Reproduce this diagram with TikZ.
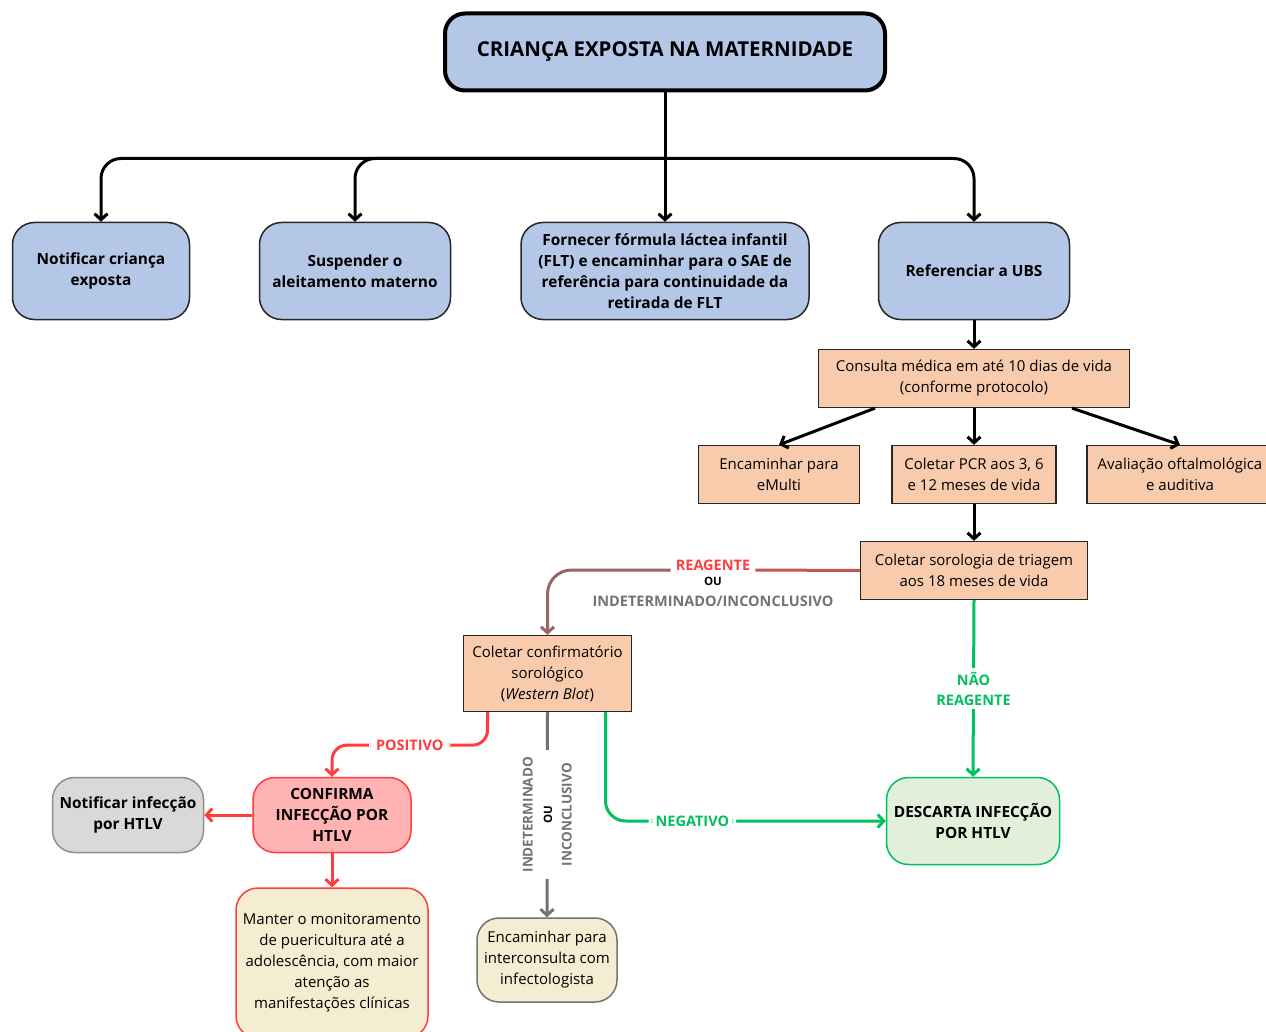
\documentclass[tikz,border=0pt]{standalone}
\usepackage{fontspec}
\setmainfont{Open Sans}
\usepackage{tikz}
\usetikzlibrary{arrows.meta,positioning}

\definecolor{azul}{HTML}{B4C7E7}
\definecolor{pessego}{HTML}{F8CBAD}
\definecolor{rosa}{HTML}{FFB3B3}
\definecolor{creme}{HTML}{F4EDD1}
\definecolor{cinzaclaro}{HTML}{D9D9D9}
\definecolor{verdeclaro}{HTML}{E2EFDA}
\definecolor{verde}{HTML}{00C060}
\definecolor{vermelho}{HTML}{FF3D3D}
\definecolor{cinza}{HTML}{737373}

\begin{document}
\begin{tikzpicture}[x=1pt,y=-1pt,
  every node/.style={font=\fontsize{15}{21}\selectfont,align=center},
  topo/.style={draw,line width=4pt,rounded corners=20pt,fill=azul,minimum width=440pt,minimum height=77pt,font=\fontsize{20.5}{24}\selectfont\bfseries},
  caixa/.style={draw=black!85,line width=1.5pt,rounded corners=22pt,fill=azul,minimum height=97pt,font=\fontsize{15.4}{21}\selectfont\bfseries},
  passo/.style={draw=black!85,line width=1.3pt,fill=pessego,minimum height=58pt},
  fim/.style={line width=1.5pt,rounded corners=22pt,font=\fontsize{15.4}{21}\selectfont\bfseries},
  seta/.style={-{Straight Barb[length=6pt,width=13pt]},line width=3pt},
  rotulo/.style={fill=white,inner xsep=7pt,inner ysep=4pt,font=\fontsize{14.5}{20}\selectfont\bfseries}]
\useasboundingbox (0,0) rectangle (1266,1032);
\fill[white] (0,0) rectangle (1266,1032);

\node[topo] (topo) at (665,52) {CRIANÇA EXPOSTA NA MATERNIDADE};
\node[caixa,minimum width=177pt] (notif) at (101,271) {Notificar criança\\exposta};
\node[caixa,minimum width=191pt] (susp) at (355,271) {Suspender o\\aleitamento materno};
\node[caixa,minimum width=288pt] (flt) at (665,271) {Fornecer fórmula láctea infantil\\(FLT) e encaminhar para o SAE de\\referência para continuidade da\\retirada de FLT};
\node[caixa,minimum width=191pt] (ubs) at (974,271) {Referenciar a UBS};

\node[passo,minimum width=311pt] (consulta) at (974,378.5) {Consulta médica em até 10 dias de vida\\(conforme protocolo)};
\node[passo,minimum width=161pt] (emulti) at (779,474.5) {Encaminhar para\\eMulti};
\node[passo,minimum width=164pt] (pcr) at (974,474.5) {Coletar PCR aos 3, 6\\e 12 meses de vida};
\node[passo,minimum width=186pt] (oftalmo) at (1180,474.5) {Avaliação oftalmológica\\e auditiva};
\node[passo,minimum width=227pt] (triagem) at (974,570.5) {Coletar sorologia de triagem\\aos 18 meses de vida};
\node[passo,minimum width=168pt,minimum height=76pt] (wb) at (547.5,673.5) {Coletar confirmatório\\sorológico\\(\textit{Western Blot})};

\node[fim,draw=verde,fill=verdeclaro,minimum width=173pt,minimum height=87pt] (descarta) at (973,821) {DESCARTA INFECÇÃO\\POR HTLV};
\node[fim,draw=vermelho,fill=rosa,minimum width=158pt,minimum height=75pt] (confirma) at (332,815) {CONFIRMA\\INFECÇÃO POR\\HTLV};
\node[fim,draw=cinza!80,fill=cinzaclaro,minimum width=151pt,minimum height=75pt] (notifhtlv) at (128,815) {Notificar infecção\\por HTLV};
\node[fim,draw=vermelho,fill=creme,minimum width=192pt,minimum height=150pt,font=\fontsize{15}{21}\selectfont] (manter) at (332,963) {Manter o monitoramento\\de puericultura até a\\adolescência, com maior\\atenção as\\manifestações clínicas};
\node[fim,draw=cinza,fill=creme,minimum width=140pt,minimum height=84pt,font=\fontsize{15}{21}\selectfont] (interc) at (547,960) {Encaminhar para\\interconsulta com\\infectologista};

% rotulos
\node[rotulo,text=vermelho,anchor=base,inner xsep=5pt] (reag) at (713,570) {REAGENTE};
\node[font=\fontsize{11.5}{13}\selectfont\bfseries] (ou) at (713,581) {OU};
\node[font=\fontsize{14.5}{20}\selectfont\bfseries,text=cinza] (indet) at (713,601) {INDETERMINADO/INCONCLUSIVO};

\path (topo.south) ++(0,66) coordinate (ramo);
\draw[seta] (topo.south) -- (flt.north);
\draw[seta,rounded corners=20pt] (ramo) -| (notif.north);
\draw[seta,rounded corners=20pt] (ramo) -| (susp.north);
\draw[seta,rounded corners=20pt] (ramo) -| (ubs.north);
\draw[seta] (ubs.south) -- (consulta.north);
\draw[seta] ([xshift=-99pt]consulta.south) -- (emulti.north);
\draw[seta] (consulta.south) -- (pcr.north);
\draw[seta] ([xshift=98pt]consulta.south) -- (oftalmo.north);
\draw[seta] (pcr.south) -- (triagem.north);

\draw[line width=3pt,draw=vermelho!55!cinza] (triagem.west) -- (reag.base east);
\draw[seta,draw=cinza!75!vermelho,rounded corners=24pt] (reag.base west) -| (wb.north);
\draw[seta,draw=verde] (triagem.south) -- node[rotulo,text=verde]{NÃO\\REAGENTE} (descarta.north);
\draw[seta,draw=verde,rounded corners=20pt] ([xshift=58pt]wb.south) |- node[rotulo,text=verde,pos=0.655]{NEGATIVO} (descarta.west);
\draw[seta,draw=vermelho,rounded corners=15pt] ([xshift=-60pt]wb.south) -- ++(0,33) -| node[rotulo,text=vermelho,pos=0.25]{POSITIVO} (confirma.north);
\draw[seta,draw=cinza] (wb.south) -- node[rotulo,rotate=90,font=\fontsize{13.5}{19.5}\selectfont\bfseries]{\textcolor{cinza}{INDETERMINADO}\\{\fontsize{11.5}{19.5}\selectfont OU}\\\textcolor{cinza}{INCONCLUSIVO}} (interc.north);
\draw[seta,draw=vermelho] (confirma.west) -- (notifhtlv.east);
\draw[seta,draw=vermelho] (confirma.south) -- (manter.north);
\end{tikzpicture}
\end{document}
